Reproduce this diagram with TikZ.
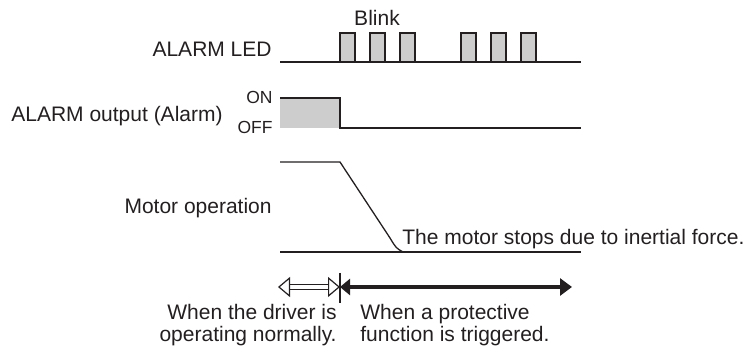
\documentclass[tikz,border=0pt]{standalone}
\usepackage{fontspec}
\setmainfont{Liberation Sans}
\usepackage{tikz}
\usetikzlibrary{arrows.meta}
\definecolor{inkblack}{RGB}{35, 31, 32}
\definecolor{signalgray}{RGB}{205, 205, 205}

\begin{document}
\begin{tikzpicture}[
    x=0.5pt, y=-0.5pt,
    wave/.style={draw=inkblack, line width=0.65pt},
    label/.style={font=\fontsize{10.5}{11}\selectfont, text=inkblack, inner sep=0pt},
    level/.style={font=\fontsize{8.75}{10}\selectfont, text=inkblack, inner sep=0pt},
    hollowarrow/.style={draw=inkblack, line width=0.6pt, double=white, double distance=2pt,
                        {Triangle[open, length=6pt, width=10pt, line width=0.6pt]}-{Triangle[open, length=6pt, width=10pt, line width=0.6pt]}},
    solidarrow/.style={draw=inkblack, line width=2.4pt,
                       {Triangle[length=5pt, width=8pt]}-{Triangle[length=6pt, width=8.5pt]}},
]
    \useasboundingbox (0,0) rectangle (744,351);

    % ALARM LED
    \node[label, anchor=base east] (ledlabel) at (272,57) {ALARM LED};
    \node[label, anchor=base] (blink) at (377,26) {Blink};
    \foreach \x in {340,370,400,461,491,521}
        \filldraw[wave, fill=signalgray] (\x,62) rectangle (\x+15,33);
    \draw[wave] (280,62) -- (581,62);

    % ALARM output
    \node[label, anchor=base east] (alarmlabel) at (223,122) {ALARM output (Alarm)};
    \node[level, anchor=base east] (onlabel) at (273,104) {ON};
    \node[level, anchor=base east] (offlabel) at (273,134) {OFF};
    \fill[signalgray] (280,98) rectangle (340,128);
    \draw[wave] (280,98) -- (340,98) -- (340,128) -- (581,128);

    % Motor operation
    \node[label, anchor=base east] (motorlabel) at (272,214) {Motor operation};
    \draw[wave] (280,162) -- (340,162) -- (390,238) .. controls (396,248) .. (403,252);
    \draw[wave] (280,252) -- (581,252);
    \node[label, anchor=base west] (stoplabel) at (402,245) {The motor stops due to inertial force.};

    % Periods
    \coordinate (normstart) at (278,287);
    \coordinate (trip) at (340,287);
    \coordinate (tripend) at (572,287);
    \draw[wave] ([yshift=7pt]trip) -- ([yshift=-8pt]trip);
    \draw[hollowarrow] (normstart) -- (trip);
    \draw[solidarrow] (trip) -- (tripend);

    \node[label, anchor=north east, align=right] (normlabel) at (337,304)
        {When the driver is\\operating normally.};
    \node[label, anchor=north west, align=left] (triplabel) at (360,304)
        {When a protective\\function is triggered.};
\end{tikzpicture}
\end{document}
